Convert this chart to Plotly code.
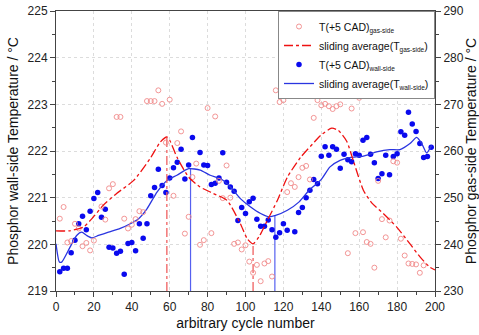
import plotly.graph_objects as go

# ---- data ----
wall_x = [2, 4, 6, 8, 10, 12, 14, 16, 18, 20, 22, 24, 26, 28, 30, 32, 34, 36, 38, 40,
          42, 44, 46, 48, 50, 52, 54, 56, 58, 60, 62, 64, 66, 68, 70, 72, 76, 78, 80, 82,
          84, 86, 88, 90, 92, 94, 96, 98, 100, 102, 104, 106, 108, 110, 112, 114, 116, 118, 120, 122,
          126, 128, 130, 132, 134, 136, 138, 140, 142, 144, 146, 148, 150, 152, 154, 156, 158, 160, 162, 164,
          166, 168, 170, 172, 174, 176, 178, 180, 182, 184, 186, 188, 190, 192, 194, 196, 198]
wall_y = [219.41, 219.49, 219.49, 219.82, 220.09, 220.44, 220.60, 220.31, 220.71, 220.98, 221.11, 220.58, 220.75, 219.94, 219.92, 219.81, 219.85, 219.36, 220.02, 220.04,
          219.86, 220.44, 220.13, 220.44, 221.04, 221.22, 221.61, 221.26, 221.11, 221.42, 221.64, 221.76, 222.04, 221.40, 221.70, 222.29, 221.97, 221.70, 221.69, 221.28,
          221.31, 221.42, 221.96, 221.33, 221.23, 221.14, 220.51, 220.79, 220.66, 220.91, 220.99, 220.54, 220.39, 220.39, 220.52, 220.31, 220.15, 220.25, 220.44, 220.30,
          220.27, 220.68, 220.79, 221.00, 221.16, 221.39, 221.30, 221.89, 222.09, 221.91, 222.09, 222.04, 221.63, 221.93, 221.81, 221.77, 221.94, 221.91, 222.23, 222.29,
          221.93, 221.75, 221.41, 221.51, 221.91, 221.49, 221.88, 221.94, 222.41, 222.34, 222.83, 222.58, 222.42, 222.16, 221.86, 221.88, 222.08]

gas_x = [2, 4, 6, 8, 10, 12, 14, 16, 18, 20, 24, 26, 28, 30, 32, 34, 36, 38, 40, 42,
         44, 46, 48, 50, 52, 54, 56, 58, 60, 62, 64, 66, 68, 70, 72, 74, 76, 78, 80, 82,
         84, 86, 88, 90, 92, 94, 96, 98, 100, 102, 104, 106, 108, 110, 112, 114, 116, 118, 120, 122,
         124, 126, 128, 130, 132, 134, 136, 138, 140, 142, 144, 146, 148, 150, 154, 156, 158, 160, 162, 164,
         166, 168, 170, 172, 174, 176, 178, 180, 182, 184, 186, 188, 190, 192, 194]
gas_y = [245.5, 248.0, 240.4, 240.7, 244.4, 243.4, 239.6, 240.3, 238.7, 240.8, 248.1, 245.3, 252.0, 252.9, 267.3, 267.3, 245.5, 243.4, 244.2, 245.4,
         247.1, 246.9, 270.7, 270.7, 270.7, 273.0, 270.1, 261.8, 271.0, 250.4, 261.7, 264.2, 242.3, 245.9, 254.4, 257.3, 239.9, 240.9, 269.2, 242.4,
         267.4, 253.6, 249.9, 256.9, 250.0, 240.1, 240.4, 238.9, 239.8, 236.3, 233.9, 235.6, 232.1, 235.9, 236.4, 233.1, 273.0, 270.5, 270.9, 251.2,
         253.1, 252.3, 254.4, 256.4, 256.8, 253.9, 267.1, 270.9, 269.8, 270.1, 269.6, 269.0, 269.6, 270.0, 238.1, 269.1, 242.4, 271.4, 242.6, 240.5,
         240.1, 235.0, 253.6, 245.4, 241.5, 245.1, 257.8, 257.5, 241.2, 237.6, 235.9, 235.8, 235.7, 233.9, 235.5]

gas_avg_x = [0, 7, 14.5, 19.8, 25, 32, 41, 49.7, 55, 58.5, 60, 63.8, 70, 76, 83, 90.3, 97.3, 100.9, 104,
             107.1, 111.5, 116.8, 122.1, 129.2, 136.3, 139.8, 145.5, 149, 153.4, 156.9, 162.2, 166.6, 172.7,
             179.8, 186.8, 192.1, 197.3, 200]
gas_avg_y = [242.9, 242.9, 243.7, 245.9, 248.4, 250.9, 253.7, 258.4, 261.9, 263.0, 262.3, 258.7, 254.4, 252.3, 250.9, 249.4, 244.4, 241.2, 240.1,
             241.6, 245.1, 249.4, 254.4, 258.7, 261.9, 263.4, 264.9, 264.4, 262.1, 257.9, 251.6, 248.9, 246.6,
             243.7, 240.1, 237.3, 235.1, 234.5]

wall_avg_x = [0, 1.8, 3, 7.4, 10.9, 13.6, 16.2, 18.9, 22.4, 27.7, 33.9, 39.2, 43.6, 48, 53.3, 58.6, 63.8, 70,
              76.1, 81.4, 86.7, 92, 97.3, 102.7, 108, 112.4, 115.9, 122.1, 128.3, 133.6, 139.8, 144.6, 149.9,
              155.1, 162.2, 169.2, 176.2, 181.5, 186.8, 190.3, 193, 195.6, 198.2]
wall_avg_y = [220.01, 219.62, 219.62, 219.94, 220.19, 220.26, 220.19, 220.14, 220.19, 220.26, 220.34, 220.44, 220.55, 220.76, 221.12, 221.37, 221.48, 221.62,
              221.59, 221.48, 221.41, 221.23, 220.98, 220.80, 220.66, 220.59, 220.62, 220.73, 220.91, 221.16, 221.38, 221.66, 221.80,
              221.86, 221.89, 221.98, 222.03, 222.03, 222.16, 222.29, 222.16, 221.96, 222.12]

gas_mark_x = [58.5, 104]
gas_mark_y = [263.0, 240.1]
wall_mark_x = [71, 115.5]
wall_mark_y = [221.62, 220.62]

LEFT_RANGE = [219, 225]
RIGHT_RANGE = [230, 290]

RED = "#ee1111"
PINK = "#f08a8a"
BLUE = "#0a0aee"
LBLUE = "#2a35e0"


def sub(t):
    return "<sub><span style='font-size:6.5px'>" + t + "</span></sub>"


fig = go.Figure()

# vertical markers
for mx, my in zip(gas_mark_x, gas_mark_y):
    fig.add_trace(go.Scatter(x=[mx, mx], y=[RIGHT_RANGE[0], my], yaxis="y2", mode="lines",
                             line=dict(color="#f06060", width=1.3, dash="dashdot"), showlegend=False, hoverinfo="skip"))
for mx, my in zip(wall_mark_x, wall_mark_y):
    fig.add_trace(go.Scatter(x=[mx, mx], y=[LEFT_RANGE[0], my], yaxis="y", mode="lines",
                             line=dict(color="#5560f0", width=1.2), showlegend=False, hoverinfo="skip"))

fig.add_trace(go.Scatter(x=gas_x, y=gas_y, yaxis="y2", mode="markers",
                         name="T(+5 CAD)" + sub("gas-side"),
                         marker=dict(symbol="circle-open", size=5, color=PINK, line=dict(width=0.9, color=PINK))))
fig.add_trace(go.Scatter(x=gas_avg_x, y=gas_avg_y, yaxis="y2", mode="lines",
                         name="sliding average(T" + sub("gas-side") + ")",
                         line=dict(color=RED, width=1.3, dash="dashdot", shape="spline", smoothing=0.6)))
fig.add_trace(go.Scatter(x=wall_x, y=wall_y, yaxis="y", mode="markers",
                         name="T(+5 CAD)" + sub("wall-side"),
                         marker=dict(symbol="circle", size=5.5, color=BLUE)))
fig.add_trace(go.Scatter(x=wall_avg_x, y=wall_avg_y, yaxis="y", mode="lines",
                         name="sliding average(T" + sub("wall-side") + ")",
                         line=dict(color=LBLUE, width=1.3, shape="spline", smoothing=0.6)))

AX = "#444444"
GRID = "#dcdcdc"
tickfont = dict(family="Liberation Sans, Arial, sans-serif", size=12, color="#222")
titlefont = dict(family="Liberation Sans, Arial, sans-serif", size=14, color="#111")

fig.update_layout(
    width=479, height=335,
    margin=dict(l=56, r=44, t=11, b=44, autoexpand=False),
    paper_bgcolor="white", plot_bgcolor="white",
    font=dict(family="Liberation Sans, Arial, sans-serif"),
    xaxis=dict(range=[0, 200], dtick=20, tick0=0, showline=True, linecolor=AX, linewidth=1, mirror=True,
               ticks="outside", ticklen=5, tickcolor=AX, tickfont=tickfont, automargin=False,
               showgrid=True, gridcolor=GRID, griddash="dot", gridwidth=1, zeroline=False,
               minor=dict(dtick=10, ticks="outside", ticklen=3, tickcolor=AX, showgrid=False),
               title=dict(text="arbitrary cycle number", font=titlefont, standoff=4)),
    yaxis=dict(range=LEFT_RANGE, dtick=1, tick0=219, showline=True, linecolor=AX, linewidth=1,
               ticks="outside", ticklen=5, tickcolor=AX, tickfont=tickfont, automargin=False,
               showgrid=True, gridcolor=GRID, griddash="dot", gridwidth=1, zeroline=False,
               minor=dict(dtick=0.5, ticks="outside", ticklen=3, tickcolor=AX, showgrid=False),
               title=dict(text="Phosphor wall-side Temperature / °C", font=titlefont, standoff=5)),
    yaxis2=dict(range=RIGHT_RANGE, dtick=10, tick0=230, overlaying="y", side="right",
                showline=True, linecolor=AX, linewidth=1, automargin=False,
                ticks="outside", ticklen=5, tickcolor=AX, tickfont=tickfont,
                showgrid=False, zeroline=False,
                minor=dict(dtick=5, ticks="outside", ticklen=3, tickcolor=AX, showgrid=False),
                title=dict(text="Phosphor gas-side Temperature / °C", font=titlefont, standoff=1)),
    legend=dict(x=1, xanchor="right", y=1, yanchor="top", bgcolor="white",
                bordercolor="#888", borderwidth=1, font=dict(size=10.5, color="#111"),
                itemwidth=30, tracegroupgap=0),
    showlegend=True,
)

fig.write_html("out.html", config={"displayModeBar": False},
               post_script="document.body.style.margin='0px';")
